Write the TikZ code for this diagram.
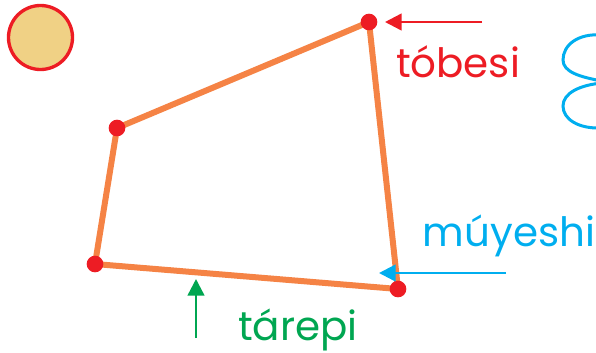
\documentclass[tikz,border=0pt]{standalone}
\usepackage{xcolor}
\usepackage{fontspec}
\setmainfont{Poppins}
\usepackage{tikz}
\usetikzlibrary{arrows.meta, positioning}

\definecolor{redpt}{HTML}{ED1C24}
\definecolor{orangeln}{HTML}{F58345}
\definecolor{bluelb}{HTML}{00AEEF}
\definecolor{greenlb}{HTML}{00A651}
\definecolor{sunfill}{HTML}{F0D185}

\begin{document}
\begin{tikzpicture}[
  x=0.03cm, y=-0.03cm,
  vertex/.style={circle, fill=redpt, inner sep=0pt, minimum size=0.5cm},
  side/.style={orangeln, line width=1.8mm},
  pointer/.style={line width=0.75mm, -{Triangle[length=0.5cm, width=0.5cm]}},
  coil/.style={bluelb, line width=0.9mm},
  label/.style={inner sep=0pt, anchor=base, text depth=0pt, font=\fontsize{34.5}{35}\selectfont}
]
\useasboundingbox (0,0) rectangle (596,352);

\node[circle, draw=redpt, fill=sunfill, line width=1mm, minimum size=1.92cm, inner sep=0pt] (sun) at (40.5,37.5) {};

\begin{scope}
\clip (0,0) rectangle (596,352);
\draw[coil] (602,35) .. controls (578,33) and (563,45) .. (563,60)
  .. controls (563,72) and (580,77) .. (602,81) -- (602,83)
  .. controls (580,85) and (563,93) .. (563,106)
  .. controls (563,119) and (578,129) .. (602,128);
\draw[coil] (597,22) -- (597,26);
\draw[coil] (597,138) -- (597,142);
\end{scope}

\coordinate (vtop) at (369,22);
\coordinate (vleft) at (117,128);
\coordinate (vlow) at (95,264);
\coordinate (vright) at (398,289);
\draw[side] (vtop) -- (vleft);
\draw[side] (vleft) -- (vlow);
\draw[side] (vlow) -- (vright);
\draw[side] (vright) -- (vtop);
\node[vertex] (ptop) at (vtop) {};
\node[vertex] (pleft) at (vleft) {};
\node[vertex] (plow) at (vlow) {};
\node[vertex] (pright) at (vright) {};

\coordinate (rstart) at (482,22);
\coordinate (rend) at (385,22);
\coordinate (bstart) at (506,273);
\coordinate (bend) at (379,273);
\coordinate (gstart) at (196,338);
\coordinate (gend) at (196,279);
\draw[pointer, redpt] (rstart) -- (rend);
\draw[pointer, bluelb] (bstart) -- (bend);
\draw[pointer, greenlb] (gstart) -- (gend);

\node[label, text=redpt] (tobesi) at (458,77) {tóbesi};
\node[label, text=bluelb] (muyeshi) at (509,246) {múyeshi};
\node[label, text=greenlb] (tarepi) at (298,340) {tárepi};
\end{tikzpicture}
\end{document}
